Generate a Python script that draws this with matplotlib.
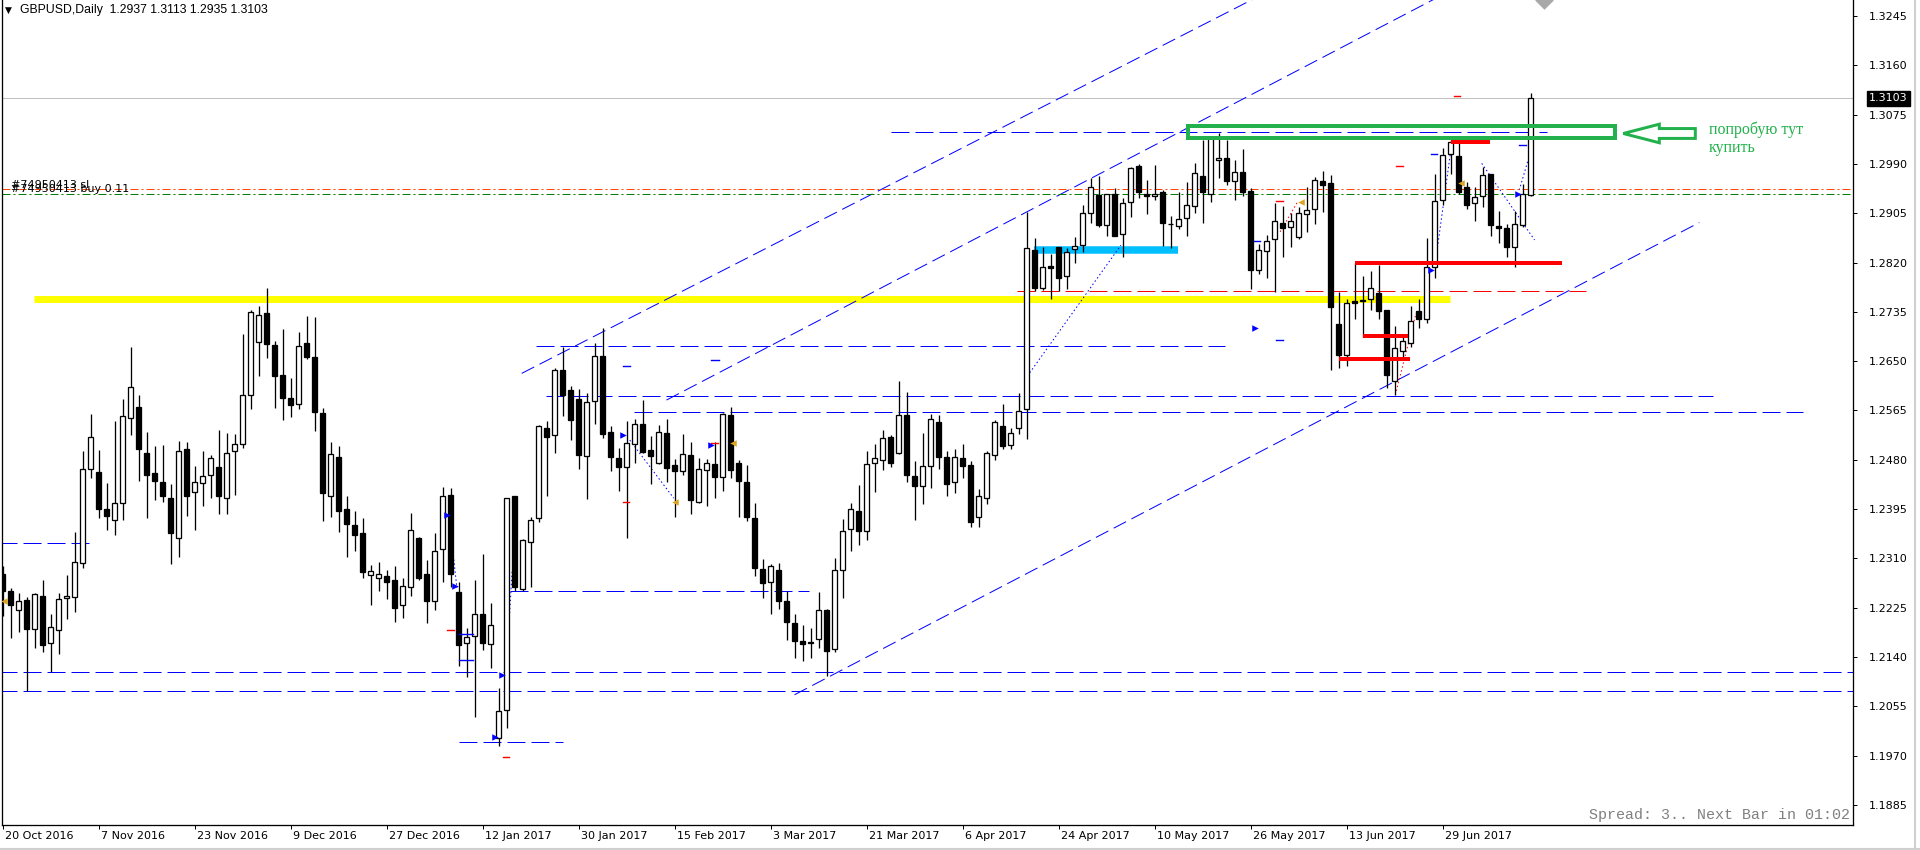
import numpy as np
import matplotlib.pyplot as plt
from matplotlib.patches import Rectangle, FancyArrow
from matplotlib.transforms import ScaledTranslation

# GBPUSD daily bars, 20 Oct 2016 .. 14 Jul 2017
opens = [1.2284, 1.2253, 1.2221, 1.2238, 1.2188, 1.2246, 1.2164, 1.2186, 1.2241, 1.2244,
         1.2302, 1.2465, 1.2459, 1.2395, 1.2377, 1.2406, 1.2552, 1.2571, 1.2491, 1.2457,
         1.2441, 1.2414, 1.2345, 1.2498, 1.2424, 1.2440, 1.2453, 1.2467, 1.2415, 1.2495,
         1.2507, 1.2591, 1.2683, 1.2733, 1.2678, 1.2627, 1.2586, 1.2577, 1.2681, 1.2657,
         1.2561, 1.2418, 1.2485, 1.2396, 1.2367, 1.2354, 1.2282, 1.2277, 1.2280, 1.2273,
         1.2229, 1.2260, 1.2345, 1.2283, 1.2236, 1.2326, 1.2419, 1.2252, 1.2164, 1.2176,
         1.2214, 1.2162, 1.2000, 1.2048, 1.2418, 1.2258, 1.2339, 1.2379, 1.2534, 1.2522,
         1.2635, 1.2600, 1.2585, 1.2486, 1.2581, 1.2659, 1.2528, 1.2483, 1.2468, 1.2507,
         1.2542, 1.2497, 1.2475, 1.2526, 1.2471, 1.2460, 1.2488, 1.2408, 1.2462, 1.2473,
         1.2451, 1.2557, 1.2474, 1.2442, 1.2380, 1.2292, 1.2269, 1.2290, 1.2236, 1.2199,
         1.2168, 1.2166, 1.2171, 1.2221, 1.2154, 1.2290, 1.2360, 1.2392, 1.2358, 1.2474,
         1.2479, 1.2519, 1.2492, 1.2558, 1.2452, 1.2434, 1.2469, 1.2546, 1.2485, 1.2441,
         1.2483, 1.2471, 1.2381, 1.2415, 1.2489, 1.2539, 1.2505, 1.2534, 1.2567, 1.2842,
         1.2777, 1.2814, 1.2846, 1.2796, 1.2843, 1.2850, 1.2905, 1.2937, 1.2884, 1.2938,
         1.2869, 1.2924, 1.2987, 1.2939, 1.2934, 1.2941, 1.2887, 1.2883, 1.2896, 1.2918,
         1.2969, 1.2938, 1.2996, 1.3000, 1.2961, 1.2976, 1.2943, 1.2807, 1.2840, 1.2860,
         1.2889, 1.2881, 1.2864, 1.2903, 1.2912, 1.2961, 1.2958, 1.2714, 1.2660, 1.2754,
         1.2755, 1.2758, 1.2767, 1.2739, 1.2615, 1.2668, 1.2682, 1.2736, 1.2723, 1.2813,
         1.2927, 1.3008, 1.3004, 1.2951, 1.2922, 1.2934, 1.2973, 1.2883, 1.2879, 1.2846,
         1.2884, 1.2937]
highs = [1.2297, 1.2259, 1.2250, 1.2244, 1.2250, 1.2273, 1.2214, 1.2250, 1.2282, 1.2356,
         1.2495, 1.2559, 1.2497, 1.2440, 1.2547, 1.2584, 1.2675, 1.2591, 1.2528, 1.2504,
         1.2506, 1.2438, 1.2512, 1.2510, 1.2469, 1.2495, 1.2488, 1.2531, 1.2526, 1.2525,
         1.2697, 1.2738, 1.2745, 1.2776, 1.2685, 1.2706, 1.2621, 1.2700, 1.2728, 1.2726,
         1.2569, 1.2510, 1.2504, 1.2418, 1.2392, 1.2379, 1.2299, 1.2303, 1.2290, 1.2297,
         1.2276, 1.2388, 1.2347, 1.2307, 1.2354, 1.2433, 1.2431, 1.2270, 1.2190, 1.2273,
         1.2318, 1.2233, 1.2086, 1.2415, 1.2418, 1.2344, 1.2381, 1.2540, 1.2547, 1.2639,
         1.2674, 1.2607, 1.2602, 1.2596, 1.2681, 1.2707, 1.2538, 1.2500, 1.2547, 1.2550,
         1.2583, 1.2521, 1.2540, 1.2550, 1.2481, 1.2525, 1.2511, 1.2483, 1.2481, 1.2511,
         1.2560, 1.2571, 1.2480, 1.2471, 1.2405, 1.2309, 1.2300, 1.2302, 1.2254, 1.2214,
         1.2195, 1.2190, 1.2252, 1.2222, 1.2311, 1.2378, 1.2406, 1.2437, 1.2495, 1.2507,
         1.2531, 1.2522, 1.2616, 1.2597, 1.2478, 1.2526, 1.2559, 1.2557, 1.2496, 1.2499,
         1.2507, 1.2478, 1.2430, 1.2495, 1.2549, 1.2576, 1.2534, 1.2596, 1.2907, 1.2863,
         1.2847, 1.2834, 1.2846, 1.2845, 1.2864, 1.2919, 1.2966, 1.2970, 1.2939, 1.2949,
         1.2932, 1.2985, 1.2990, 1.2962, 1.2988, 1.2945, 1.2900, 1.2941, 1.2959, 1.2991,
         1.3032, 1.3039, 1.3043, 1.3031, 1.2997, 1.3016, 1.2948, 1.2852, 1.2867, 1.2922,
         1.2918, 1.2905, 1.2916, 1.2950, 1.2968, 1.2978, 1.2971, 1.2770, 1.2757, 1.2819,
         1.2797, 1.2805, 1.2815, 1.2739, 1.2711, 1.2692, 1.2745, 1.2758, 1.2862, 1.2973,
         1.3017, 1.3031, 1.3026, 1.2959, 1.2950, 1.2984, 1.2973, 1.2909, 1.2887, 1.2909,
         1.2955, 1.3113]
lows = [1.2210, 1.2172, 1.2184, 1.2081, 1.2155, 1.2148, 1.2114, 1.2145, 1.2205, 1.2218,
        1.2294, 1.2449, 1.2379, 1.2359, 1.2351, 1.2376, 1.2523, 1.2444, 1.2379, 1.2410,
        1.2408, 1.2301, 1.2313, 1.2384, 1.2359, 1.2401, 1.2415, 1.2386, 1.2386, 1.2419,
        1.2501, 1.2568, 1.2625, 1.2656, 1.2570, 1.2549, 1.2553, 1.2567, 1.2653, 1.2530,
        1.2375, 1.2382, 1.2355, 1.2313, 1.2323, 1.2277, 1.2229, 1.2253, 1.2240, 1.2201,
        1.2208, 1.2245, 1.2273, 1.2198, 1.2221, 1.2270, 1.2260, 1.2124, 1.2106, 1.2037,
        1.2153, 1.2121, 1.1986, 1.2017, 1.2253, 1.2253, 1.2260, 1.2372, 1.2418, 1.2491,
        1.2556, 1.2514, 1.2464, 1.2413, 1.2542, 1.2518, 1.2460, 1.2427, 1.2346, 1.2475,
        1.2491, 1.2438, 1.2473, 1.2442, 1.2382, 1.2454, 1.2387, 1.2406, 1.2401, 1.2415,
        1.2427, 1.2448, 1.2382, 1.2375, 1.2279, 1.2242, 1.2215, 1.2223, 1.2169, 1.2138,
        1.2134, 1.2139, 1.2156, 1.2108, 1.2148, 1.2241, 1.2323, 1.2334, 1.2341, 1.2424,
        1.2463, 1.2468, 1.2490, 1.2441, 1.2377, 1.2403, 1.2432, 1.2465, 1.2418, 1.2422,
        1.2449, 1.2364, 1.2365, 1.2403, 1.2479, 1.2499, 1.2499, 1.2525, 1.2516, 1.2771,
        1.2773, 1.2757, 1.2771, 1.2775, 1.2820, 1.2839, 1.2888, 1.2881, 1.2865, 1.2865,
        1.2830, 1.2899, 1.2931, 1.2903, 1.2927, 1.2849, 1.2845, 1.2877, 1.2865, 1.2906,
        1.2889, 1.2925, 1.2966, 1.2953, 1.2927, 1.2934, 1.2775, 1.2800, 1.2794, 1.2769,
        1.2830, 1.2846, 1.2860, 1.2872, 1.2887, 1.2908, 1.2634, 1.2639, 1.2642, 1.2723,
        1.2691, 1.2738, 1.2723, 1.2603, 1.2591, 1.2653, 1.2675, 1.2707, 1.2715, 1.2794,
        1.2919, 1.2973, 1.2938, 1.2912, 1.2892, 1.2916, 1.2866, 1.2854, 1.2830, 1.2812,
        1.2881, 1.2935]
closes = [1.2253, 1.2229, 1.2236, 1.2189, 1.2248, 1.2161, 1.2191, 1.2240, 1.2246, 1.2303,
          1.2464, 1.2519, 1.2396, 1.2384, 1.2405, 1.2555, 1.2605, 1.2498, 1.2453, 1.2444,
          1.2417, 1.2354, 1.2495, 1.2418, 1.2441, 1.2452, 1.2483, 1.2417, 1.2491, 1.2507,
          1.2591, 1.2734, 1.2730, 1.2679, 1.2625, 1.2587, 1.2575, 1.2676, 1.2658, 1.2563,
          1.2422, 1.2490, 1.2392, 1.2370, 1.2351, 1.2287, 1.2288, 1.2284, 1.2270, 1.2225,
          1.2263, 1.2359, 1.2277, 1.2237, 1.2322, 1.2417, 1.2284, 1.2161, 1.2175, 1.2214,
          1.2164, 1.2196, 1.2047, 1.2414, 1.2260, 1.2341, 1.2376, 1.2538, 1.2520, 1.2635,
          1.2592, 1.2549, 1.2489, 1.2579, 1.2659, 1.2525, 1.2484, 1.2468, 1.2509, 1.2542,
          1.2494, 1.2487, 1.2528, 1.2466, 1.2460, 1.2490, 1.2410, 1.2465, 1.2474, 1.2451,
          1.2559, 1.2463, 1.2444, 1.2382, 1.2294, 1.2267, 1.2297, 1.2237, 1.2201, 1.2168,
          1.2163, 1.2165, 1.2221, 1.2151, 1.2290, 1.2358, 1.2395, 1.2358, 1.2472, 1.2483,
          1.2517, 1.2475, 1.2558, 1.2453, 1.2435, 1.2469, 1.2550, 1.2485, 1.2439, 1.2484,
          1.2470, 1.2373, 1.2417, 1.2491, 1.2545, 1.2503, 1.2526, 1.2564, 1.2845, 1.2777,
          1.2813, 1.2810, 1.2794, 1.2838, 1.2848, 1.2905, 1.2950, 1.2885, 1.2939, 1.2866,
          1.2922, 1.2983, 1.2941, 1.2935, 1.2938, 1.2889, 1.2886, 1.2895, 1.2919, 1.2974,
          1.2942, 1.3037, 1.3000, 1.2961, 1.2976, 1.2942, 1.2808, 1.2841, 1.2858, 1.2891,
          1.2880, 1.2891, 1.2905, 1.2910, 1.2962, 1.2953, 1.2744, 1.2661, 1.2751, 1.2751,
          1.2753, 1.2776, 1.2737, 1.2627, 1.2672, 1.2684, 1.2719, 1.2723, 1.2813, 1.2926,
          1.3005, 1.3028, 1.2941, 1.2920, 1.2933, 1.2971, 1.2884, 1.2880, 1.2847, 1.2886,
          1.2939, 1.3103]

date_labels = ['20 Oct 2016', '7 Nov 2016', '23 Nov 2016', '9 Dec 2016', '27 Dec 2016',
               '12 Jan 2017', '30 Jan 2017', '15 Feb 2017', '3 Mar 2017', '21 Mar 2017',
               '6 Apr 2017', '24 Apr 2017', '10 May 2017', '26 May 2017', '13 Jun 2017',
               '29 Jun 2017']
price_labels = ['1.3245', '1.3160', '1.3075', '1.2990', '1.2905', '1.2820', '1.2735', '1.2650',
                '1.2565', '1.2480', '1.2395', '1.2310', '1.2225', '1.2140', '1.2055', '1.1970',
                '1.1885']

last_price = 1.3103
order_sl = 1.2947
order_open = 1.2939

# drawn objects: (price, from bar, to bar)
blue_levels = [(1.2114, -1, 240), (1.2081, -1, 240), (1.2337, -1, 10.9), (1.1993, 57, 70),
               (1.2254, 63.4, 100.8), (1.2677, 66.7, 152.8), (1.2590, 67.9, 213.8),
               (1.2562, 78.9, 225), (1.3045, 111, 193)]
red_level = (1.2771, 126.8, 197.9)
yellow_level = (1.2757, 3.9, 180.9)
cyan_level = (1.2842, 128.9, 146.9)
red_bars = [(1.2819, 169, 194.9), (1.2693, 170.1, 175.7), (1.2653, 167, 175.9),
            (1.3027, 181, 185.9)]
channel = [((64.9, 1.2629), (160.0, 1.3300)),
           ((83.0, 1.2583), (179.5, 1.3278)),
           ((99.0, 1.2075), (212.1, 1.2889))]
buy_zone = (148.2, 201.6, 1.3034, 1.3055)
arrow_tail = (211.6, 1.30425)
arrow_tip_bar = 202.6

trade_lines_blue = [((128.4, 1.2630), (139.8, 1.2850)), ((78.4, 1.2514), (83.9, 1.2414)),
                    ((179.3, 1.2839), (181.1, 1.3020)), ((184.9, 1.2991), (191.5, 1.2859)),
                    ((189.6, 1.2945), (190.7, 1.2997)), ((56.3, 1.2322), (56.8, 1.2259)),
                    ((63.3, 1.2195), (63.7, 1.2287))]
trade_lines_red = [((174.1, 1.2592), (176.7, 1.2733)), ((159.7, 1.2873), (161.9, 1.2925))]
blue_ticks = [(57.0, 58.8, 1.2179), (57.0, 58.8, 1.2135), (77.5, 78.4, 1.2641),
              (88.6, 89.5, 1.2652), (156.4, 157.2, 1.2858), (159.2, 160.0, 1.2687),
              (178.5, 179.3, 1.3008), (189.6, 190.4, 1.3022)]
red_ticks = [(181.4, 182.2, 1.3107), (174.2, 175.0, 1.2987), (159.2, 160.0, 1.2926),
             (62.5, 63.3, 1.1967), (55.6, 56.4, 1.2186), (77.5, 78.3, 1.2408),
             (88.6, 89.4, 1.2509)]
blue_marks = [(55.5, 1.2385), (56.6, 1.2263), (62.4, 1.2109), (61.6, 1.2003), (77.6, 1.2523),
              (88.6, 1.2506), (156.6, 1.2708), (178.6, 1.2807), (189.4, 1.2939)]
gold_marks = [(0.2, 1.2237), (84.1, 1.2408), (162.3, 1.2925), (182.3, 1.2957), (91.3, 1.2509)]

plt.rcParams['font.family'] = 'DejaVu Sans'
fig = plt.figure(figsize=(19.2, 8.5), dpi=100)
ax = fig.add_axes([1.5 / 1920, 25 / 850, 1851.5 / 1920, 825 / 850])
px = 0.72  # one pixel in points

x = np.arange(len(closes))
o = np.array(opens)
h = np.array(highs)
l = np.array(lows)
c = np.array(closes)
up = c >= o

# levels and drawings
dash = (0, (18, 6))
for p, a, b in blue_levels:
    ax.plot([a, b], [p, p], color='#0000FF', lw=px, ls=dash, zorder=2)
ax.plot(red_level[1:], [red_level[0]] * 2, color='#FF0000', lw=px, ls=dash, zorder=2)
ax.plot(yellow_level[1:], [yellow_level[0]] * 2, color='#FFFF00', lw=7 * px,
        solid_capstyle='butt', zorder=1)
ax.plot(cyan_level[1:], [cyan_level[0]] * 2, color='#00BFFF', lw=7.5 * px,
        solid_capstyle='butt', zorder=2)
for p, a, b in red_bars:
    ax.plot([a, b], [p, p], color='#FF0000', lw=4 * px, solid_capstyle='butt', zorder=5)
for (a, pa), (b, pb) in channel:
    ax.plot([a, b], [pa, pb], color='#0000FF', lw=px, ls=(0, (14, 6)), zorder=2)
for (a, pa), (b, pb) in trade_lines_blue:
    ax.plot([a, b], [pa, pb], color='#0000FF', lw=px, ls=(0, (1.5, 2.5)), zorder=2)
for (a, pa), (b, pb) in trade_lines_red:
    ax.plot([a, b], [pa, pb], color='#FF0000', lw=px, ls=(0, (1.5, 2.5)), zorder=2)
for a, b, p in blue_ticks:
    ax.plot([a, b], [p, p], color='#0000FF', lw=1.4 * px, zorder=5)
for a, b, p in red_ticks:
    ax.plot([a, b], [p, p], color='#FF0000', lw=1.4 * px, zorder=5)
bx, by = zip(*blue_marks)
ax.scatter(bx, by, marker='>', s=22, color='#0000FF', zorder=6, linewidths=0)
gx, gy = zip(*gold_marks)
ax.scatter(gx, gy, marker='<', s=22, color='#DAA520', zorder=6, linewidths=0)

ax.axhline(last_price, color='#C0C0C0', lw=px, zorder=1)
ax.axhline(order_sl, color='#FF4500', lw=px, ls=(0, (8, 3, 2, 3)), zorder=2)
ax.axhline(order_open, color='#008000', lw=px, ls=(0, (8, 3, 2, 3)), zorder=2)
# the two order labels sit on top of each other, as in the terminal
ax.text(1.1, order_sl + 0.0002, '#74950413 sl', fontsize=8, color='black', va='baseline')
ax.text(1.1, order_open + 0.0002, '#74950413 buy 0.11', fontsize=8, color='black',
        va='baseline')

# candles
ax.vlines(x, l, h, color='black', lw=px * 1.3, zorder=3)
ax.bar(x[up], (c - o)[up], bottom=o[up], width=0.55, color='white', edgecolor='black',
       lw=px * 1.3, zorder=4)
ax.bar(x[~up], (o - c)[~up], bottom=c[~up], width=0.55, color='black', edgecolor='black',
       lw=px * 1.3, zorder=4)

# buy zone box, arrow and note
green = '#22B14C'
x0, x1, p0, p1 = buy_zone
ax.add_patch(Rectangle((x0, p0), x1 - x0, p1 - p0, fill=False, ec=green, lw=4 * px,
                       joinstyle='miter', zorder=7))
ax.add_patch(FancyArrow(arrow_tail[0], arrow_tail[1], arrow_tip_bar - arrow_tail[0], 0,
                        width=0.0017, head_width=0.0032, head_length=4.5,
                        length_includes_head=True, fc='white', ec=green, lw=3 * px,
                        zorder=7))
ax.text(213.3, 1.3063, 'попробую тут\nкупить', family='Liberation Serif', fontsize=11.5,
        color=green, va='top', ha='left', linespacing=1.15)

ax.scatter([192.7], [1.3272], marker='D', s=90, color='#A8A8A8', zorder=8, clip_on=True,
           linewidths=0)

ax.text(0.9985, 0.012, 'Spread: 3.. Next Bar in 01:02', transform=ax.transAxes,
        family='Liberation Mono', fontsize=10.8, color='#808080', ha='right', va='center')

# axes
ax.set_xlim(-0.125, 231.31)
ax.set_ylim(1.18505, 1.32726)
ax.spines['top'].set_visible(False)
for s in ['left', 'right', 'bottom']:
    ax.spines[s].set_linewidth(px * 1.3)
ax.yaxis.tick_right()
ax.set_yticks([float(v) for v in price_labels])
ax.set_yticklabels(price_labels)
ax.set_xticks(np.arange(len(date_labels)) * 12)
ax.set_xticklabels(date_labels, ha='left')
ax.tick_params(axis='y', direction='out', length=3, width=px, pad=8.5, labelsize=8,
               left=False, right=True)
ax.tick_params(axis='x', direction='out', length=3, width=px, pad=1.5, labelsize=8)
shift = ScaledTranslation(2 / 100, 0, fig.dpi_scale_trans)
for lab in ax.get_xticklabels():
    lab.set_transform(lab.get_transform() + shift)

ax.annotate(f'{last_price:.4f}', xy=(1, last_price), xycoords=ax.get_yaxis_transform(),
            xytext=(11.5, 0), textcoords='offset points', fontsize=8, color='white',
            va='center', ha='left',
            bbox=dict(boxstyle='square,pad=0.2', fc='black', ec='black'))

fig.text(5 / 1920, 1 - 10 / 850, '▼', fontsize=6.5, va='center', ha='left')
fig.text(20 / 1920, 1 - 10 / 850, 'GBPUSD,Daily  1.2937 1.3113 1.2935 1.3103',
         family='Liberation Sans', fontsize=8.8, va='center', ha='left')
fig.add_artist(plt.Line2D([1915 / 1920] * 2, [0, 1], color='#D0D0D0', lw=1.5))
fig.add_artist(plt.Line2D([0, 1], [0.6 / 850] * 2, color='#D0D0D0', lw=1.5))

fig.savefig('out.png', dpi=100)
